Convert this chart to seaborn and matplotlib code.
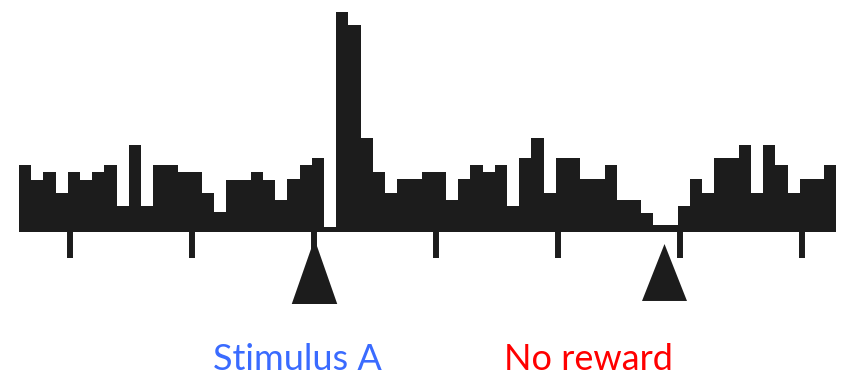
import numpy as np
import pandas as pd
import seaborn as sns
from matplotlib import pyplot as plt

# firing rate per bin (67 bins, arbitrary units)
rate = [67, 52, 60, 39, 60, 52, 60, 67, 26, 87, 26, 67, 67, 60, 60, 39, 20,
        52, 52, 60, 52, 32, 53, 67, 74, 5, 220, 207, 94, 60, 39, 53, 53, 60,
        60, 32, 53, 67, 60, 67, 26, 74, 94, 39, 74, 74, 53, 53, 67, 32, 32,
        19, 7, 7, 26, 53, 39, 74, 74, 87, 39, 87, 67, 39, 53, 53, 67]
bin_centers = np.arange(len(rate)) + 0.5

tick_times = [4.2, 14.2, 24.2, 34.2, 44.2, 54.2, 64.2]
event_times = [24.2, 52.9]
event_labels = ['Stimulus A', 'No reward']

df = pd.DataFrame({'time': bin_centers, 'rate': rate})

sns.set_style('white')
fig = plt.figure(figsize=(8.44, 3.79), dpi=100)
ax = fig.add_axes([0, 0, 1, 1])

sns.histplot(data=df, x='time', weights='rate', binwidth=1,
             binrange=(0, len(rate)), element='step', fill=True,
             color='#1c1c1c', alpha=1, linewidth=0, ax=ax)

ax.vlines(tick_times, -26, 0, color='#1c1c1c', linewidth=4.3)

shapes = [(0.35, 46.8, -38.5), (0.395, 41.0, -39.5)]
for t, (hw, size, yc) in zip(event_times, shapes):
    tri = [(-hw, -0.5), (hw, -0.5), (0, 0.5)]
    ax.plot([t], [yc], marker=tri, markersize=size, color='#1c1c1c',
            markeredgewidth=0, linestyle='none')

ax.set_xlim(-19 / 12.2, (844 - 19) / 12.2)
ax.set_ylim(-147, 232)
ax.axis('off')

label_x = [297 / 844, 588 / 844]
label_colors = ['#3a6bff', '#ff0000']
for x, text, c in zip(label_x, event_labels, label_colors):
    fig.text(x, 1 - 370 / 379, text, ha='center', va='baseline', color=c,
             fontsize=26, family=['Lato', 'DejaVu Sans'])

plt.savefig('out.png', dpi=100)
